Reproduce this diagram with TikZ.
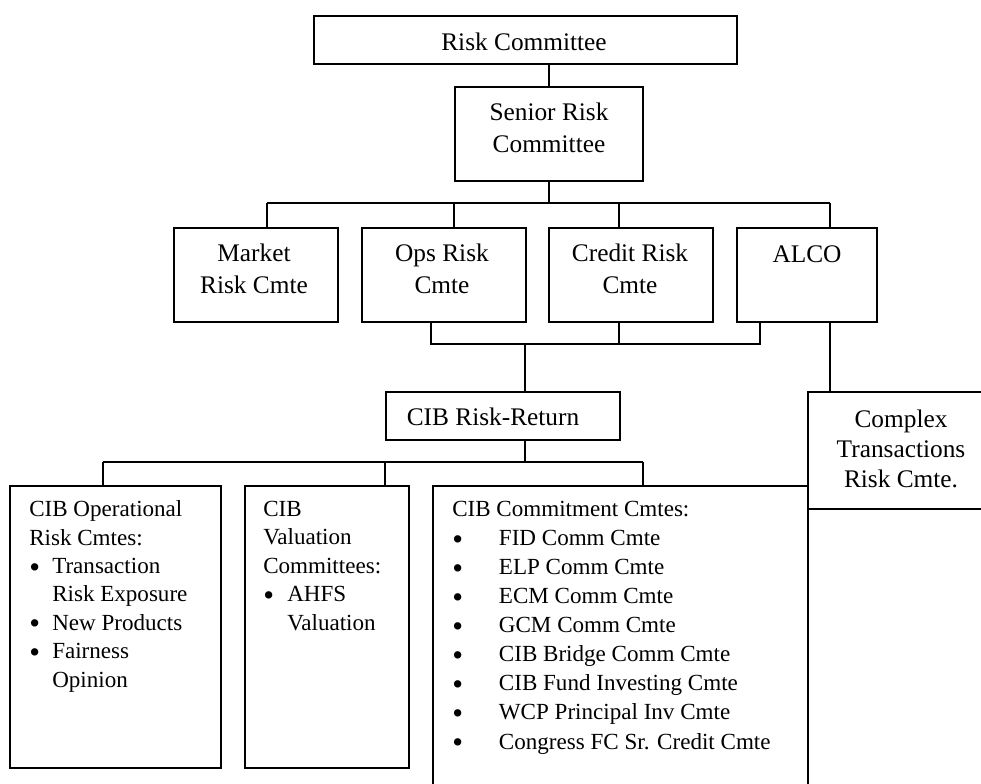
\documentclass[tikz,border=0pt]{standalone}
\usepackage{fontspec}
\setmainfont{Liberation Serif}
\newcommand\blt{\raisebox{-2.8pt}{\fontsize{23}{0}\selectfont •}}
\begin{document}
\begin{tikzpicture}[x=0.75pt,y=-0.75pt,
  box/.style={draw, line width=1.35pt, inner sep=0pt, anchor=north west},
  wire/.style={line width=1.15pt},
  uptext/.style={font=\fontsize{19}{23.8}\selectfont, inner sep=0pt, align=center, anchor=base},
  lowtext/.style={font=\fontsize{17.3}{21.3}\selectfont, inner sep=0pt, align=left, anchor=base west}]
\useasboundingbox (0,0) rectangle (981,783);
\clip (0,0) rectangle (981,783);

% boxes: name, left, top, width, height (in pixels of the drawing grid)
\newcommand\orgbox[5]{\node[box, minimum width=#4*0.75pt, minimum height=#5*0.75pt] (#1) at (#2,#3) {};}
\orgbox{rc}{313}{15}{423}{48}
\orgbox{sr}{454}{86}{188}{94}
\orgbox{mr}{173}{227}{164}{94}
\orgbox{ops}{361}{227}{164}{94}
\orgbox{cr}{548}{227}{164}{94}
\orgbox{alco}{736}{227}{140}{94}
\orgbox{cib}{385}{391}{234}{48}
\orgbox{cx}{807}{391}{200}{117}
\orgbox{op}{9}{485}{211}{282}
\orgbox{val}{244}{485}{164}{282}
\orgbox{com}{432}{485}{375}{320}

% connectors
\coordinate (busA) at (267,203);
\coordinate (busB) at (830,203);
\coordinate (dO) at (454,203);
\coordinate (dC) at (619,203);
\draw[wire] (rc.south -| sr.north) -- (sr.north);
\draw[wire] (sr.south) -- (sr.south |- busA);
\draw[wire] (busA) -- (busB);
\draw[wire] (busA) -- (busA |- mr.north);
\draw[wire] (dO) -- (dO |- ops.north);
\draw[wire] (dC) -- (dC |- cr.north);
\draw[wire] (busB) -- (busB |- alco.north);

\coordinate (mL) at (431,344);
\coordinate (mM) at (619,344);
\coordinate (mR) at (760,344);
\coordinate (mC) at (525,344);
\draw[wire] (ops.south -| mL) -- (mL) -- (mR) -- (mR |- alco.south);
\draw[wire] (mM |- cr.south) -- (mM);
\draw[wire] (mC) -- (mC |- cib.north);
\draw[wire] (busB |- alco.south) -- (busB |- cx.north);

\coordinate (lb) at (525,462);
\coordinate (lbW) at (103,462);
\coordinate (lbV) at (385,462);
\coordinate (lbE) at (643,462);
\draw[wire] (cib.south -| lb) -- (lb);
\draw[wire] (lbW) -- (lbE);
\draw[wire] (lbW) -- (lbW |- op.north);
\draw[wire] (lbV) -- (lbV |- val.north);
\draw[wire] (lbE) -- (lbE |- com.north);

% labels (multi-line labels are anchored at the baseline of their last line)
\node[uptext] (t-rc) at (524,50) {Risk Committee};
\node[uptext] (t-sr) at (549,152) {Senior Risk\\Committee};
\node[uptext] (t-mr) at (254,293) {Market\\Risk Cmte};
\node[uptext] (t-ops) at (442,293) {Ops Risk\\Cmte};
\node[uptext] (t-cr) at (630,293) {Credit Risk\\Cmte};
\node[uptext] (t-alco) at (807,262) {ALCO};
\node[uptext] (t-cib) at (493,425) {CIB Risk-Return};
\node[uptext, font=\fontsize{19}{22.5}\selectfont] (t-cx) at (901,487) {Complex\\Transactions\\Risk Cmte.};

\node[lowtext] (t-op) at (29,687) {CIB Operational\\Risk Cmtes:\\
  \makebox[17.25pt][l]{\blt}Transaction\\
  \hspace*{17.25pt}Risk Exposure\\
  \makebox[17.25pt][l]{\blt}New Products\\
  \makebox[17.25pt][l]{\blt}Fairness\\
  \hspace*{17.25pt}Opinion};
\node[lowtext] (t-val) at (263,630) {CIB\\Valuation\\Committees:\\
  \makebox[18pt][l]{\blt}AHFS\\
  \hspace*{18pt}Valuation};
\node[lowtext, font=\fontsize{17.3}{21.8}\selectfont] (t-com) at (452,749) {CIB Commitment Cmtes:\\
  \makebox[35pt][l]{\blt}FID Comm Cmte\\
  \makebox[35pt][l]{\blt}ELP Comm Cmte\\
  \makebox[35pt][l]{\blt}ECM Comm Cmte\\
  \makebox[35pt][l]{\blt}GCM Comm Cmte\\
  \makebox[35pt][l]{\blt}CIB Bridge Comm Cmte\\
  \makebox[35pt][l]{\blt}CIB Fund Investing Cmte\\
  \makebox[35pt][l]{\blt}WCP Principal Inv Cmte\\
  \makebox[35pt][l]{\blt}Congress FC Sr. Credit Cmte};
\end{tikzpicture}
\end{document}
